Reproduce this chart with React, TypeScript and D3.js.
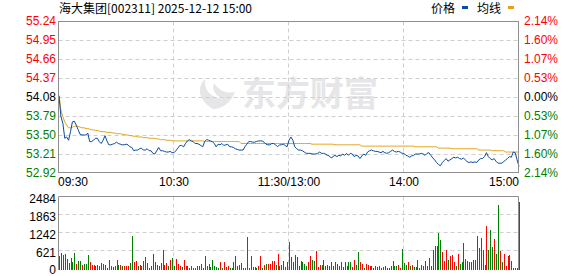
import React from 'react';
import * as d3 from 'd3';

const PREV_CLOSE = 54.08;
const priceTicks = [55.24, 54.95, 54.66, 54.37, 54.08, 53.79, 53.50, 53.21, 52.92];
const pctLabels = ['2.14%', '1.60%', '1.07%', '0.53%', '0.00%', '0.53%', '1.07%', '1.60%', '2.14%'];
const volTicks = [2484, 1863, 1242, 621, 0];
const timeLabels = ['09:30', '10:30', '11:30/13:00', '14:00', '15:00'];
const timeIdx = [0, 60, 120, 180, 240];

const prices = [
  54.10, 53.78, 53.68, 53.45, 53.47, 53.42, 53.55, 53.70, 53.71, 53.65,
  53.58, 53.51, 53.50, 53.50, 53.50, 53.53, 53.40, 53.40, 53.42, 53.45,
  53.45, 53.40, 53.37, 53.42, 53.49, 53.41, 53.35, 53.35, 53.36, 53.37,
  53.39, 53.37, 53.36, 53.35, 53.35, 53.36, 53.35, 53.32, 53.31, 53.26,
  53.27, 53.27, 53.29, 53.30, 53.27, 53.27, 53.29, 53.26, 53.26, 53.22,
  53.21, 53.26, 53.31, 53.26, 53.26, 53.25, 53.24, 53.24, 53.25, 53.23,
  53.23, 53.26, 53.30, 53.34, 53.34, 53.32, 53.37, 53.41, 53.43, 53.41,
  53.40, 53.37, 53.37, 53.36, 53.34, 53.32, 53.40, 53.43, 53.42, 53.41,
  53.40, 53.37, 53.32, 53.36, 53.35, 53.37, 53.34, 53.35, 53.36, 53.32,
  53.32, 53.31, 53.29, 53.28, 53.27, 53.27, 53.27, 53.32, 53.36, 53.40,
  53.40, 53.39, 53.39, 53.40, 53.41, 53.41, 53.41, 53.39, 53.36, 53.35,
  53.35, 53.37, 53.37, 53.35, 53.32, 53.35, 53.35, 53.36, 53.34, 53.32,
  53.42, 53.47, 53.42, 53.32, 53.29, 53.27, 53.27, 53.26, 53.24, 53.22,
  53.22, 53.22, 53.21, 53.21, 53.21, 53.22, 53.24, 53.22, 53.22, 53.21,
  53.19, 53.18, 53.15, 53.17, 53.19, 53.17, 53.19, 53.18, 53.21, 53.19,
  53.22, 53.19, 53.22, 53.21, 53.17, 53.19, 53.18, 53.14, 53.18, 53.21,
  53.19, 53.24, 53.26, 53.27, 53.26, 53.25, 53.25, 53.24, 53.23, 53.25,
  53.23, 53.22, 53.23, 53.25, 53.27, 53.25, 53.24, 53.25, 53.24, 53.22,
  53.22, 53.19, 53.18, 53.16, 53.18, 53.19, 53.21, 53.21, 53.21, 53.22,
  53.21, 53.19, 53.22, 53.23, 53.19, 53.15, 53.12, 53.08, 53.05, 53.03,
  53.08, 53.11, 53.14, 53.10, 53.12, 53.14, 53.16, 53.15, 53.16, 53.14,
  53.13, 53.15, 53.12, 53.09, 53.08, 53.09, 53.08, 53.09, 53.08, 53.12,
  53.14, 53.14, 53.17, 53.23, 53.17, 53.14, 53.12, 53.14, 53.10, 53.07,
  53.07, 53.07, 53.09, 53.12, 53.14, 53.17, 53.16, 53.24, 53.23, 53.12,
  53.02,
];

const avgPrices = [
  54.10, 53.88, 53.78, 53.70, 53.65, 53.61, 53.61, 53.62, 53.63, 53.64,
  53.63, 53.62, 53.61, 53.61, 53.60, 53.60, 53.59, 53.58, 53.58, 53.57,
  53.57, 53.56, 53.55, 53.55, 53.55, 53.54, 53.54, 53.54, 53.53, 53.53,
  53.52, 53.52, 53.52, 53.51, 53.51, 53.50, 53.50, 53.49, 53.49, 53.48,
  53.48, 53.47, 53.47, 53.47, 53.46, 53.46, 53.46, 53.45, 53.45, 53.45,
  53.45, 53.44, 53.44, 53.43, 53.43, 53.43, 53.42, 53.42, 53.42, 53.41,
  53.41, 53.41, 53.41, 53.41, 53.41, 53.41, 53.41, 53.41, 53.41, 53.41,
  53.41, 53.41, 53.41, 53.41, 53.41, 53.41, 53.40, 53.40, 53.40, 53.40,
  53.40, 53.40, 53.40, 53.40, 53.40, 53.40, 53.40, 53.40, 53.40, 53.40,
  53.40, 53.40, 53.40, 53.40, 53.40, 53.37, 53.37, 53.37, 53.37, 53.37,
  53.37, 53.37, 53.37, 53.37, 53.37, 53.37, 53.37, 53.37, 53.37, 53.37,
  53.37, 53.37, 53.37, 53.37, 53.37, 53.37, 53.37, 53.37, 53.37, 53.37,
  53.37, 53.37, 53.37, 53.37, 53.37, 53.37, 53.37, 53.37, 53.37, 53.37,
  53.37, 53.37, 53.36, 53.36, 53.36, 53.36, 53.36, 53.36, 53.36, 53.36,
  53.36, 53.36, 53.36, 53.36, 53.35, 53.35, 53.35, 53.35, 53.35, 53.35,
  53.35, 53.35, 53.35, 53.35, 53.35, 53.35, 53.35, 53.35, 53.33, 53.33,
  53.33, 53.33, 53.33, 53.33, 53.33, 53.33, 53.33, 53.33, 53.33, 53.33,
  53.33, 53.33, 53.33, 53.33, 53.33, 53.33, 53.33, 53.33, 53.33, 53.33,
  53.33, 53.33, 53.33, 53.33, 53.33, 53.33, 53.32, 53.32, 53.32, 53.32,
  53.32, 53.32, 53.32, 53.32, 53.32, 53.32, 53.32, 53.32, 53.30, 53.30,
  53.30, 53.30, 53.30, 53.30, 53.30, 53.29, 53.29, 53.29, 53.29, 53.29,
  53.29, 53.29, 53.29, 53.29, 53.29, 53.29, 53.29, 53.29, 53.29, 53.27,
  53.27, 53.27, 53.27, 53.27, 53.27, 53.27, 53.26, 53.26, 53.26, 53.26,
  53.26, 53.26, 53.26, 53.24, 53.24, 53.24, 53.24, 53.24, 53.24, 53.24,
  53.24,
];

const volumes = [
  426, 518, 460, 483, 322, 173, 345, 207, 518, 138,
  230, 253, 115, 150, 150, 460, 207, 115, 92, 58,
  115, 81, 173, 150, 115, 10, 288, 58, 35, 58,
  288, 115, 92, 81, 58, 58, 58, 173, 1093, 196,
  230, 58, 92, 81, 230, 368, 173, 10, 58, 495,
  207, 92, 69, 173, 621, 115, 173, 58, 288, 345,
  58, 322, 138, 58, 23, 288, 58, 58, 10, 58,
  10, 10, 58, 58, 150, 5, 426, 81, 150, 23,
  288, 58, 23, 10, 219, 10, 219, 23, 58, 10,
  10, 196, 403, 58, 115, 173, 10, 10, 1058, 5,
  403, 46, 46, 10, 81, 403, 10, 115, 150, 150,
  150, 253, 253, 115, 495, 58, 115, 230, 23, 196,
  886, 368, 196, 460, 368, 81, 230, 207, 150, 81,
  196, 403, 288, 230, 575, 23, 92, 115, 288, 58,
  115, 58, 219, 58, 219, 150, 58, 219, 23, 196,
  58, 196, 219, 23, 288, 115, 564, 219, 150, 10,
  138, 115, 58, 81, 10, 58, 23, 58, 10, 35,
  81, 10, 10, 58, 253, 81, 81, 115, 10, 667,
  184, 115, 207, 58, 115, 23, 23, 288, 10, 115,
  81, 253, 58, 357, 81, 610, 771, 771, 1219, 978,
  564, 253, 633, 288, 403, 460, 207, 81, 495, 150,
  219, 874, 322, 253, 219, 219, 288, 288, 1116, 702,
  1047, 610, 115, 1461, 633, 1323, 736, 1012, 495, 2185,
  598, 219, 495, 81, 426, 460, 253, 5, 0, 5,
  2289,
];

const volDirGroups = [
  'GGGRGRRGGR', 'GGRGGGRRRR', 'GRGGRGGRRR', 'RGRGRRRGGR', 'RGRRGGRGGG',
  'GRRGRRRGRG', 'GRRRGRRRGR', 'GRGGGGRRRG', 'GGGGRGRRRG', 'GRGRGRRGRR',
  'RGGGRRGRGR', 'RRRGRRGRGR', 'RRGGGGGGGG', 'RRGGRRRGGR', 'GGRGRGGRGR',
  'GGGRRGGRRG', 'RRRRGGGGRG', 'RRGGRGGRRG', 'GGRGRGGRRR', 'RGGRGGGGGG',
  'RRRGRRRGRG', 'GGRGGGRGGR', 'RRGRGGGRGG', 'RGRRRRGRGR', 'G',
];
const volDir = volDirGroups.join('').split('');

const NUM_FONT = '"Liberation Sans", Arial, sans-serif';
const CJK_FONT = '"Noto Sans CJK SC", "Liberation Sans", sans-serif';
const RED = '#ff0000';
const GREEN = '#008000';
const GRID = '#cfcfcf';
const FRAME = '#8f8f8f';
const BLUE = '#0a4ca0';
const GOLD = '#e2a319';

export default function App() {
  const x = d3.scaleLinear().domain([0, 240]).range([59, 519]);
  const y = d3.scaleLinear().domain([52.92, 55.24]).range([173, 21]);
  const yv = d3.scaleLinear().domain([0, 2484]).range([268, 196]);

  const priceLine = d3.line<number>().x((_, i) => x(i)).y((d) => y(d));
  const left = Math.round(x(0)) - 0.5;
  const right = Math.round(x(240)) - 0.5;
  const top = Math.round(y(55.24)) + 0.5;
  const bottom = Math.round(y(52.92)) - 0.5;
  const vTop = Math.round(yv(2484)) + 0.5;
  const vBottom = 270;

  const labelColor = (v: number) =>
    Math.abs(v - PREV_CLOSE) < 1e-6 ? '#000' : v > PREV_CLOSE ? RED : GREEN;

  return (
    <svg
      width={578}
      height={276}
      style={{ position: 'absolute', left: 0, top: 0, background: '#fff' }}
    >
      {/* watermark */}
      <g fill="#e6e6e9">
        <path d="M213,109 C199,101 196,88 205,79 C204,90 210,97 222,99 C214,94 212,89 214,83 C219,91 227,94 235,92 C231,102 223,109 213,109 Z" />
        <text x={242} y={106} fontFamily={CJK_FONT} fontWeight="bold" fontSize={34}>
          东方财富
        </text>
      </g>

      {/* title */}
      <text x={59} y={13} fontFamily={CJK_FONT} fontSize={12} fill="#000">
        海大集团[002311] 2025-12-12 15:00
      </text>
      {/* legend */}
      <text x={431} y={13} fontFamily={CJK_FONT} fontSize={12} fill="#000">价格</text>
      <rect x={462} y={6} width={6} height={3} fill={BLUE} />
      <text x={477} y={13} fontFamily={CJK_FONT} fontSize={12} fill="#000">均线</text>
      <rect x={508} y={6} width={6} height={3} fill={GOLD} />

      {/* price grid */}
      {priceTicks.slice(1, -1).map((t) => (
        <line
          key={'hg' + t}
          x1={left}
          x2={right}
          y1={Math.round(y(t)) + 0.5}
          y2={Math.round(y(t)) + 0.5}
          stroke={GRID}
          strokeDasharray="4,3"
        />
      ))}
      {timeIdx.slice(1, -1).map((t) => (
        <line
          key={'vg' + t}
          x1={Math.round(x(t)) - 0.5}
          x2={Math.round(x(t)) - 0.5}
          y1={top}
          y2={bottom}
          stroke={GRID}
          strokeDasharray="4,3"
        />
      ))}

      {/* lines */}
      <path d={priceLine(avgPrices) || ''} fill="none" stroke={GOLD} strokeWidth={1} />
      <path d={priceLine(prices) || ''} fill="none" stroke={BLUE} strokeWidth={1} />

      {/* price frame */}
      <rect x={left} y={top} width={right - left} height={bottom - top} fill="none" stroke={FRAME} />

      {/* price labels */}
      {priceTicks.map((t) => (
        <text
          key={'pl' + t}
          x={56}
          y={y(t)}
          dy="0.35em"
          textAnchor="end"
          fontFamily={NUM_FONT}
          fontSize={12}
          fill={labelColor(t)}
        >
          {t.toFixed(2)}
        </text>
      ))}
      {priceTicks.map((t, i) => (
        <text
          key={'pc' + t}
          x={524}
          y={y(t)}
          dy="0.35em"
          fontFamily={NUM_FONT}
          fontSize={12}
          fill={labelColor(t)}
        >
          {pctLabels[i]}
        </text>
      ))}

      {/* time labels */}
      {timeIdx.map((t, i) => (
        <text
          key={'tl' + t}
          x={i === 0 ? x(t) - 1 : x(t)}
          y={186}
          textAnchor={i === 0 ? 'start' : i === timeIdx.length - 1 ? 'end' : 'middle'}
          fontFamily={NUM_FONT}
          fontSize={12}
          fill="#000"
        >
          {timeLabels[i]}
        </text>
      ))}

      {/* volume grid */}
      {volTicks.slice(1, -1).map((t) => (
        <line
          key={'vhg' + t}
          x1={left}
          x2={right}
          y1={Math.round(yv(t)) + 0.5}
          y2={Math.round(yv(t)) + 0.5}
          stroke={GRID}
          strokeDasharray="4,3"
        />
      ))}
      {timeIdx.slice(1, -1).map((t) => (
        <line
          key={'vvg' + t}
          x1={Math.round(x(t)) - 0.5}
          x2={Math.round(x(t)) - 0.5}
          y1={vTop}
          y2={vBottom}
          stroke={GRID}
          strokeDasharray="4,3"
        />
      ))}

      {/* volume bars */}
      {volumes.map((v, i) => {
        const bx = Math.round(x(i));
        const by = Math.min(Math.round(yv(v)), vBottom - 1);
        return (
          <rect
            key={'vb' + i}
            x={bx}
            y={by}
            width={1}
            height={vBottom - by}
            fill={volDir[i] === 'R' ? RED : GREEN}
            shapeRendering="crispEdges"
          />
        );
      })}

      {/* volume frame */}
      <line x1={left} x2={right} y1={vTop} y2={vTop} stroke={FRAME} />
      <line x1={left} x2={left} y1={vTop} y2={vBottom} stroke={FRAME} />
      <line x1={right} x2={right} y1={vTop} y2={vBottom} stroke={FRAME} />

      {/* volume labels */}
      {volTicks.map((t) => (
        <text
          key={'vl' + t}
          x={56}
          y={yv(t) + (t === 0 ? 1.5 : 3)}
          dy="0.35em"
          textAnchor="end"
          fontFamily={NUM_FONT}
          fontSize={12}
          fill="#000"
        >
          {t}
        </text>
      ))}
    </svg>
  );
}
